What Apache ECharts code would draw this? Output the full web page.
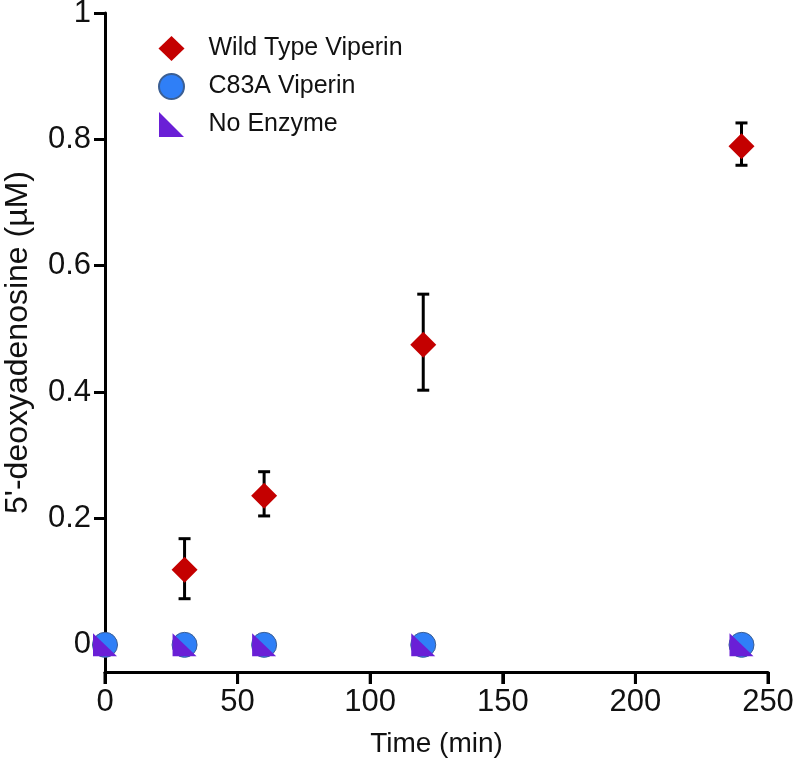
<!DOCTYPE html>
<html>
<head>
<meta charset="utf-8">
<script src="https://cdn.jsdelivr.net/npm/echarts@6/dist/echarts.min.js"></script>
<style>html,body{margin:0;padding:0;background:#fff}#c{width:800px;height:777px}</style>
</head>
<body>
<div id="c"></div>
<script>
const times = [0, 30, 60, 120, 240];
const wildType = [0, 0.119, 0.236, 0.475, 0.789];
const wildTypeLow = [0, 0.073, 0.204, 0.403, 0.759];
const wildTypeHigh = [0, 0.168, 0.274, 0.555, 0.826];
const c83a = [0, 0, 0, 0, 0];
const noEnzyme = [0, 0, 0, 0, 0];
const xTicks = [0, 50, 100, 150, 200, 250];
const yTicks = [0, 0.2, 0.4, 0.6, 0.8, 1];
const yMin = -0.043;
const yMax = 1;

const FONT = 'Liberation Sans, Arial, Helvetica, sans-serif';
const triPath = 'path://M0,0 L0,10 L10,10 Z';

const chart = echarts.init(document.getElementById('c'));
const errData = times.map((t, i) => [t, wildTypeLow[i], wildTypeHigh[i]]).filter((d, i) => i > 0);

chart.setOption({
  animation: false,
  backgroundColor: '#fff',
  grid: { left: 105, right: 32, top: 13, bottom: 105, containLabel: false, outerBoundsMode: 'none' },
  legend: {
    left: 158, top: 36, padding: 0, orient: 'vertical', itemGap: 12, itemWidth: 26, itemHeight: 25,
    textStyle: { fontFamily: FONT, fontSize: 25, color: '#111', padding: [0, 0, 0, 19] },
    data: [
      { name: 'Wild Type Viperin', icon: 'diamond' },
      { name: 'C83A Viperin', icon: 'circle' },
      { name: 'No Enzyme', icon: triPath }
    ]
  },
  xAxis: {
    type: 'value', min: 0, max: 250, interval: 50,
    name: 'Time (min)', nameLocation: 'middle', nameGap: 58,
    nameTextStyle: { fontFamily: FONT, fontSize: 28, color: '#111' },
    axisLine: { show: true, onZero: false, lineStyle: { color: '#000', width: 3 } },
    axisTick: { show: true, length: 12, lineStyle: { color: '#000', width: 3 } },
    axisLabel: { fontFamily: FONT, fontSize: 31, color: '#111', margin: 15 },
    splitLine: { show: false }
  },
  yAxis: {
    type: 'value', min: yMin, max: yMax,
    name: "5'-deoxyadenosine (µM)", nameLocation: 'middle', nameGap: 71,
    nameTextStyle: { fontFamily: FONT, fontSize: 32, color: '#111' },
    axisLine: { show: true, onZero: false, lineStyle: { color: '#000', width: 3 } },
    axisTick: { show: true, length: 11, lineStyle: { color: '#000', width: 3 }, customValues: yTicks },
    axisLabel: { fontFamily: FONT, fontSize: 31, color: '#111', margin: 14, customValues: yTicks,
      formatter: v => String(Math.round(v * 10) / 10) },
    splitLine: { show: false }
  },
  series: [
    {
      name: 'x ticks', type: 'custom', z: 1, clip: false, silent: true,
      renderItem: function (params, api) {
        const p = api.coord([api.value(0), yMin]);
        return { type: 'line', shape: { x1: p[0], y1: p[1], x2: p[0], y2: p[1] + 12 },
          style: { stroke: '#000', lineWidth: 3 } };
      },
      encode: { x: 0 },
      data: xTicks.map(v => [v])
    },
    {
      name: 'WT error', type: 'custom', z: 2,
      renderItem: function (params, api) {
        const x = api.value(0);
        const lo = api.coord([x, api.value(1)]);
        const hi = api.coord([x, api.value(2)]);
        const hw = 6;
        const style = { stroke: '#000', lineWidth: 3 };
        return {
          type: 'group', children: [
            { type: 'line', shape: { x1: lo[0], y1: lo[1], x2: hi[0], y2: hi[1] }, style },
            { type: 'line', shape: { x1: lo[0] - hw, y1: lo[1], x2: lo[0] + hw, y2: lo[1] }, style },
            { type: 'line', shape: { x1: hi[0] - hw, y1: hi[1], x2: hi[0] + hw, y2: hi[1] }, style }
          ]
        };
      },
      encode: { x: 0, y: [1, 2] },
      data: errData
    },
    {
      name: 'Wild Type Viperin', type: 'scatter', symbol: 'diamond', symbolSize: 26, z: 3,
      itemStyle: { color: '#c40000', opacity: 1 },
      data: times.map((t, i) => [t, wildType[i]])
    },
    {
      name: 'C83A Viperin', type: 'scatter', symbol: 'circle', symbolSize: 25, z: 4,
      itemStyle: { color: '#2f7ff7', borderColor: '#3b5f94', borderWidth: 1, opacity: 1 },
      data: times.map((t, i) => [t, c83a[i]])
    },
    {
      name: 'No Enzyme', type: 'scatter', symbol: triPath, symbolSize: [24, 23], z: 5,
      itemStyle: { color: '#6a1fd6', opacity: 1 },
      data: times.map((t, i) => [t, noEnzyme[i]])
    }
  ]
});
</script>
</body>
</html>
